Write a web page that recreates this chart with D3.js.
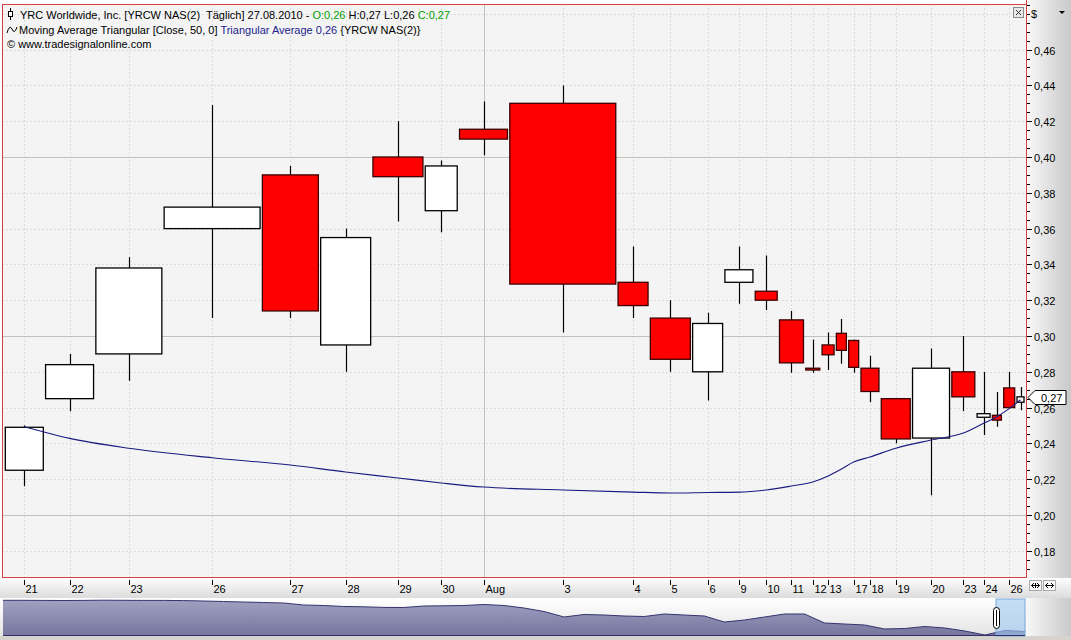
<!DOCTYPE html>
<html><head><meta charset="utf-8">
<script src="https://cdn.jsdelivr.net/npm/d3@7"></script>
<style>html,body{margin:0;padding:0;background:#fff;overflow:hidden}svg{display:block}text{white-space:pre}</style>
</head><body><svg id="c" width="1071" height="640"></svg>
<script>
// ---------- DATA ----------
const dates = ["2010-07-21","2010-07-22","2010-07-23","2010-07-26","2010-07-27","2010-07-28","2010-07-29","2010-07-30",
  "2010-08-02","2010-08-03","2010-08-04","2010-08-05","2010-08-06","2010-08-09","2010-08-10","2010-08-11","2010-08-12",
  "2010-08-13","2010-08-16","2010-08-17","2010-08-18","2010-08-19","2010-08-20","2010-08-23","2010-08-24","2010-08-25",
  "2010-08-26","2010-08-27"];
const tickLabels = ["21","22","23","26","27","28","29","30","Aug","3","4","5","6","9","10","11","12","13","","17","18","19","20","23","24","","26",""];
const opens  = [0.225,0.265,0.290,0.360,0.390,0.295,0.400,0.370,0.4155,0.430,0.330,0.310,0.280,0.330,0.325,0.309,0.282,0.295,0.3015,0.2975,0.282,0.265,0.243,0.280,0.2546,0.2557,0.271,0.263];
const highs  = [0.250,0.290,0.344,0.429,0.395,0.360,0.420,0.398,0.431,0.440,0.350,0.320,0.313,0.350,0.345,0.314,0.298,0.302,0.3095,0.298,0.289,0.265,0.293,0.300,0.280,0.2687,0.280,0.2715];
const lows   = [0.216,0.258,0.275,0.310,0.310,0.280,0.364,0.358,0.401,0.302,0.310,0.280,0.264,0.318,0.3145,0.2795,0.2795,0.281,0.2845,0.2795,0.263,0.240,0.211,0.258,0.2447,0.2493,0.2596,0.2585];
const closes = [0.249,0.284,0.338,0.372,0.314,0.355,0.389,0.395,0.410,0.329,0.317,0.287,0.307,0.337,0.320,0.285,0.281,0.2895,0.292,0.2825,0.269,0.2425,0.282,0.266,0.2566,0.253,0.260,0.266];
const volumes = [38,48,66,96,56,50,50,32,48,106,30,40,30,28,22,24,14,12,10,10,18,29,37,23,13,9,11,7];
const maValues = [0.2493,0.2428,0.2373,0.2320,0.2279,0.2240,0.2207,0.2179,0.2156,0.2140,0.2128,0.2123,0.2126,0.2128,0.2140,0.2162,0.2184,0.2218,0.2257,0.2296,0.2324,0.2373,0.2419,0.2458,0.2512,0.2549,0.2594,0.2644];
const yTickValues = [0.18,0.20,0.22,0.24,0.26,0.28,0.30,0.32,0.34,0.36,0.38,0.40,0.42,0.44,0.46];
const navHistory = [35.7,35.7,35.6,35.5,35.6,35.8,35.7,35.6,35.6,35.4,35,34.5,34,33.5,33,31,30.5,29.5,29.2,28.6,28.5,30,30.2,30.5,31.5,30.5,28,24.5,19,21.5,21,20,19.5,22,21,20,14,16,19,22,22,13,12,11,7,7.5,9.5,8,5,1,5.5,4.5];

// ---------- LAYOUT ----------
const svg = d3.select("#c");
const W = 1071, H = 640;
const PL = 2.5, PT = 4.5, PR = 1026.5, PB = 577.5;
const fmt = v => d3.format(".2f")(v).replace(".", ",");

const defs = svg.append("defs");
const g1 = defs.append("linearGradient").attr("id","axisGrad").attr("x1","0").attr("x2","1").attr("y1","0").attr("y2","0");
g1.append("stop").attr("offset","0").attr("stop-color","#f8f8f8");
g1.append("stop").attr("offset","1").attr("stop-color","#c9c9c9");
const g2 = defs.append("linearGradient").attr("id","xGrad").attr("x1","0").attr("x2","0").attr("y1","0").attr("y2","1");
g2.append("stop").attr("offset","0").attr("stop-color","#fdfdfd");
g2.append("stop").attr("offset","1").attr("stop-color","#dcdcdc");
const g3 = defs.append("linearGradient").attr("id","navGrad").attr("x1","0").attr("x2","0").attr("y1","0").attr("y2","1");
g3.append("stop").attr("offset","0").attr("stop-color","#a0a0c2");
g3.append("stop").attr("offset","1").attr("stop-color","#76769e");
const g4 = defs.append("linearGradient").attr("id","navBg").attr("x1","0").attr("x2","0").attr("y1","0").attr("y2","1");
g4.append("stop").attr("offset","0").attr("stop-color","#ffffff");
g4.append("stop").attr("offset","1").attr("stop-color","#e4e4e4");
defs.append("clipPath").attr("id","plotClip").append("rect").attr("x",PL).attr("y",PT).attr("width",PR-PL).attr("height",PB-PT);

// page background
svg.append("rect").attr("width",W).attr("height",H).attr("fill","#ffffff");
svg.append("rect").attr("x",0).attr("y",636).attr("width",W).attr("height",4).attr("fill","#d6d3ce");

// scales
const gapUnits = 2.3;
const starts = [];
let acc = 0;
volumes.forEach((v,i)=>{ starts.push(acc); acc += v + (i < volumes.length-1 ? gapUnits : 0); });
const x = d3.scaleLinear().domain([0, acc]).range([5.3, 1024]);
const y = d3.scaleLinear().domain([0.20, 0.40]).range([515, 157]);
const cx = i => x(starts[i] + volumes[i]/2);

// plot background
svg.append("rect").attr("x",PL).attr("y",PT).attr("width",PR-PL).attr("height",PB-PT).attr("fill","#f4f4f4");

const plot = svg.append("g").attr("clip-path","url(#plotClip)");
// horizontal grid
const hGrid = d3.range(0.16, 0.50, 0.02).map(v=>+v.toFixed(2));
hGrid.forEach(v=>{
  const solid = Math.abs(v*10 - Math.round(v*10)) < 1e-6;
  plot.append("line").attr("x1",PL).attr("x2",PR).attr("y1",Math.round(y(v))+0.5).attr("y2",Math.round(y(v))+0.5)
    .attr("stroke", solid ? "#bcc4bc" : "#c4c4c4").attr("stroke-width",1)
    .attr("stroke-dasharray", solid ? null : "1,3");
});
// vertical grid
dates.forEach((d,i)=>{
  if (!tickLabels[i]) return;
  const solid = tickLabels[i] === "Aug";
  const xx = Math.round(cx(i))+0.5;
  plot.append("line").attr("x1",xx).attr("x2",xx).attr("y1",PT).attr("y2",PB)
    .attr("stroke", solid ? "#bcc4bc" : "#c4c4c4").attr("stroke-dasharray", solid ? null : "1,3");
});

// candles
const candles = plot.selectAll("g.candle").data(dates).join("g").attr("class","candle");
candles.append("line")
  .attr("x1",(d,i)=>Math.round(cx(i))+0.5).attr("x2",(d,i)=>Math.round(cx(i))+0.5)
  .attr("y1",(d,i)=>y(highs[i])).attr("y2",(d,i)=>y(lows[i]))
  .attr("stroke","#000").attr("stroke-width",1.2);
candles.append("rect")
  .attr("x",(d,i)=>x(starts[i]))
  .attr("width",(d,i)=>x(starts[i]+volumes[i]) - x(starts[i]))
  .attr("y",(d,i)=>y(Math.max(opens[i],closes[i])))
  .attr("height",(d,i)=>Math.max(1.5, Math.abs(y(opens[i])-y(closes[i]))))
  .attr("fill",(d,i)=> closes[i] >= opens[i] ? "#ffffff" : "#ff0000")
  .attr("stroke",(d,i)=> closes[i] >= opens[i] ? "#000000" : "#3a0000")
  .attr("stroke-width",1.3);

// moving average
const maLine = d3.line().x((d,i)=>cx(i)).y(d=>y(d)).curve(d3.curveMonotoneX);
plot.append("path").attr("d", maLine(maValues)).attr("fill","none").attr("stroke","#1a1a80").attr("stroke-width",1.1);

// plot border
svg.append("rect").attr("x",PL).attr("y",PT).attr("width",PR-PL).attr("height",PB-PT)
  .attr("fill","none").attr("stroke","#d84040").attr("stroke-width",1);

// close button top-right
svg.append("rect").attr("x",1013.5).attr("y",7.5).attr("width",10).attr("height",10).attr("fill","#e8e8e8").attr("stroke","#8a8a8a");
svg.append("path").attr("d","M1016,10 L1021,15 M1021,10 L1016,15").attr("stroke","#333").attr("stroke-width",1);

// ---------- HEADER TEXT ----------
const hdr = svg.append("g").attr("font-family","'Liberation Sans', Arial, sans-serif").attr("font-size","11px").attr("fill","#000");
hdr.append("line").attr("x1",10.5).attr("x2",10.5).attr("y1",8).attr("y2",20).attr("stroke","#000");
hdr.append("rect").attr("x",8.5).attr("y",11.5).attr("width",4).attr("height",5).attr("fill","#fff").attr("stroke","#000");
const t1 = hdr.append("text").attr("x",20).attr("y",18.5);
t1.append("tspan").text("YRC Worldwide, Inc. [YRCW NAS(2)  Täglich] 27.08.2010 - ");
t1.append("tspan").attr("fill","#00a000").text("O:" + fmt(opens[opens.length-1]));
t1.append("tspan").text(" H:" + fmt(highs[highs.length-1]) + " L:" + fmt(lows[lows.length-1]) + " ");
t1.append("tspan").attr("fill","#00a000").text("C:" + fmt(closes[closes.length-1]));
hdr.append("path").attr("d","M7,33 Q9.5,24 12,29 Q14.5,35 17,27").attr("fill","none").attr("stroke","#000").attr("stroke-width",1);
const t2 = hdr.append("text").attr("x",19).attr("y",33.5);
t2.append("tspan").text("Moving Average Triangular [Close, 50, 0] ");
t2.append("tspan").attr("fill","#1c1c8c").text("Triangular Average " + fmt(maValues[maValues.length-1]));
t2.append("tspan").text(" {YRCW NAS(2)}");
hdr.append("text").attr("x",7).attr("y",48).text("© www.tradesignalonline.com");

// ---------- RIGHT AXIS ----------
svg.append("rect").attr("x",1027).attr("y",0).attr("width",44).attr("height",578).attr("fill","url(#axisGrad)");
svg.append("line").attr("x1",1026.5).attr("x2",1026.5).attr("y1",0).attr("y2",578).attr("stroke","#d84040");
const ax = svg.append("g").attr("font-family","'Liberation Sans', Arial, sans-serif").attr("font-size","11px").attr("fill","#000");
ax.append("text").attr("x",1031).attr("y",18).text("$");
ax.append("path").attr("d","M1059,11 L1065,11 L1062,14 Z").attr("fill","#000");
d3.range(0.17, 0.4851, 0.005).forEach(v=>{
  const yy = Math.round(y(v))+0.5;
  ax.append("line").attr("x1",1027).attr("x2",1030).attr("y1",yy).attr("y2",yy).attr("stroke","#000");
});
yTickValues.forEach(v=>{
  const yy = Math.round(y(v))+0.5;
  ax.append("line").attr("x1",1027).attr("x2",1032).attr("y1",yy).attr("y2",yy).attr("stroke","#000");
  ax.append("text").attr("x",1034).attr("y",yy+4).text(fmt(v));
});
const lastY = Math.round(y(closes[closes.length-1]))+0.5;
ax.append("path").attr("d",`M1028,${lastY} L1035,${lastY-7} L1066,${lastY-7} L1066,${lastY+7} L1035,${lastY+7} Z`)
  .attr("fill","#fff").attr("stroke","#000");
ax.append("text").attr("x",1041).attr("y",lastY+4).text(fmt(closes[closes.length-1]));

// ---------- X AXIS ----------
svg.append("rect").attr("x",0).attr("y",578).attr("width",W).attr("height",20).attr("fill","url(#xGrad)");
const xa = svg.append("g").attr("font-family","'Liberation Sans', Arial, sans-serif").attr("font-size","11px").attr("fill","#000");
dates.forEach((d,i)=>{
  if (!tickLabels[i]) return;
  const xx = Math.round(cx(i))+0.5;
  xa.append("line").attr("x1",xx).attr("x2",xx).attr("y1",580).attr("y2",585).attr("stroke","#000");
  xa.append("text").attr("x",xx+1).attr("y",593).text(tickLabels[i]);
});
// arrow buttons
[1029,1043].forEach((bx,k)=>{
  xa.append("rect").attr("x",bx+0.5).attr("y",580.5).attr("width",12).attr("height",10).attr("fill","#fafafa").attr("stroke","#a8a8a8");
  const m = 585.5, l = bx+2.5, r = bx+10.5;
  xa.append("path").attr("d",`M${l},${m} L${r},${m} M${l+2.5},${m-2.5} L${l},${m} L${l+2.5},${m+2.5} M${r-2.5},${m-2.5} L${r},${m} L${r-2.5},${m+2.5}`)
    .attr("fill","none").attr("stroke","#000").attr("stroke-width",1);
  if (k===0) xa.append("line").attr("x1",bx+6.5).attr("x2",bx+6.5).attr("y1",583).attr("y2",588).attr("stroke","#000");
});

// ---------- NAVIGATOR ----------
svg.append("rect").attr("x",0).attr("y",598).attr("width",W).attr("height",38).attr("fill","url(#navBg)");
const nx = d3.scaleLinear().domain([0, navHistory.length-1]).range([3, 1025]);
const ny = d3.scaleLinear().domain([0, 40]).range([636, 596]);
const navArea = d3.area().x((d,i)=>nx(i)).y0(636).y1(d=>ny(d));
const navLine = d3.line().x((d,i)=>nx(i)).y(d=>ny(d));
svg.append("path").attr("d",navArea(navHistory)).attr("fill","url(#navGrad)");
svg.append("path").attr("d",navLine(navHistory)).attr("fill","none").attr("stroke","#34346e").attr("stroke-width",1);
svg.append("rect").attr("x",996).attr("y",599).attr("width",29).attr("height",37).attr("fill","#9cc8f4").attr("fill-opacity",0.6).attr("stroke","#7aa8d8");
svg.append("rect").attr("x",993.5).attr("y",607.5).attr("width",6).attr("height",21).attr("rx",3).attr("fill","#fff").attr("stroke","#000");
svg.append("line").attr("x1",996.5).attr("x2",996.5).attr("y1",610).attr("y2",626).attr("stroke","#000");
svg.append("line").attr("x1",3).attr("x2",1025).attr("y1",635.5).attr("y2",635.5).attr("stroke","#30306a");
svg.append("rect").attr("x",1026).attr("y",598).attr("width",45).attr("height",38).attr("fill","url(#axisGrad)");
</script></body></html>
